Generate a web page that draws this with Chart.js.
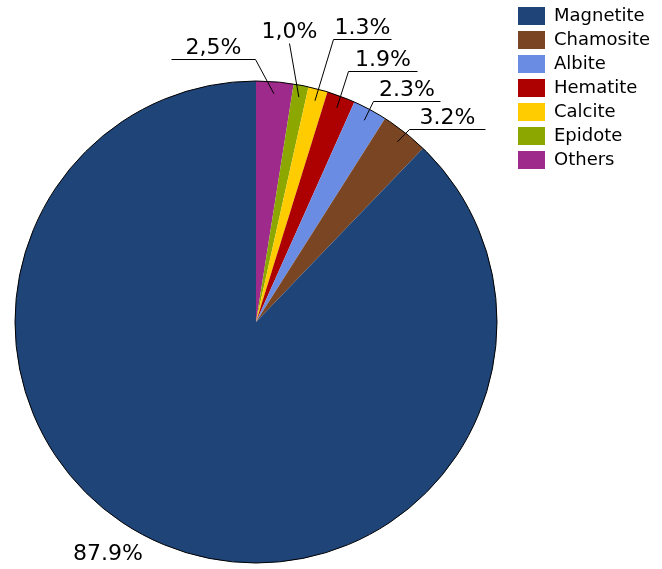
<!DOCTYPE html>
<html>
<head>
<meta charset="utf-8">
<script src="https://cdn.jsdelivr.net/npm/chart.js@4"></script>
<style>
  html, body { margin: 0; padding: 0; background: #fff; }
  canvas { display: block; }
</style>
</head>
<body>
<canvas id="pie" width="662" height="569"></canvas>
<script>
// clockwise from 12 o'clock
const minerals = ['Others', 'Epidote', 'Calcite', 'Hematite', 'Albite', 'Chamosite', 'Magnetite'];
const shares = [2.5, 1.0, 1.3, 1.9, 2.3, 3.2, 87.9];
const shareText = ['2,5%', '1,0%', '1.3%', '1.9%', '2.3%', '3.2%', '87.9%'];
const colours = ['#9E2A8B', '#8BA700', '#FFCC00', '#AD0000', '#6A8DE3', '#7A4522', '#1F4478'];

// label placement: elbow offset from the slice anchor, and underline length
const callouts = [
    {dx: -19, dy: -35, len: -84},
    {dx: -10, dy: -54, len: 0},
    {dx: 18, dy: -62, len: 58},
    {dx: 11, dy: -37, len: 69},
    {dx: 9, dy: -19, len: 67},
    {dx: 12, dy: -13, len: 76},
    {dx: -58, dy: 14, len: null}
];

const snap = v => Math.round(v) + 0.5;

const calloutPlugin = {
    id: 'callouts',
    afterDatasetsDraw(chart) {
        const ctx = chart.ctx;
        const arcs = chart.getDatasetMeta(0).data;
        ctx.save();
        // outer rim
        ctx.beginPath();
        ctx.arc(arcs[0].x, arcs[0].y, arcs[0].outerRadius, 0, Math.PI * 2);
        ctx.strokeStyle = '#000';
        ctx.lineWidth = 1;
        ctx.stroke();

        ctx.font = '22px "DejaVu Sans"';
        ctx.fillStyle = '#000';
        ctx.textAlign = 'center';
        ctx.textBaseline = 'alphabetic';
        arcs.forEach((arc, i) => {
            const c = callouts[i];
            const mid = (arc.startAngle + arc.endAngle) / 2;
            if (c.len === null) {
                const px = arc.x + Math.cos(mid) * arc.outerRadius + c.dx;
                const py = arc.y + Math.sin(mid) * arc.outerRadius + c.dy;
                ctx.fillText(shareText[i], px, py);
                return;
            }
            const ax = arc.x + Math.cos(mid) * arc.outerRadius * 0.95;
            const ay = arc.y + Math.sin(mid) * arc.outerRadius * 0.95;
            const ex = snap(ax + c.dx), ey = snap(ay + c.dy);
            ctx.beginPath();
            ctx.moveTo(ax, ay);
            ctx.lineTo(ex, ey);
            ctx.lineTo(ex + c.len, ey);
            ctx.stroke();
            ctx.fillText(shareText[i], ex + c.len / 2, ey - 6);
        });
        ctx.restore();
    }
};

new Chart(document.getElementById('pie'), {
    type: 'pie',
    data: {
        labels: minerals,
        datasets: [{
            data: shares,
            backgroundColor: colours,
            borderWidth: 0,
            radius: 241
        }]
    },
    options: {
        responsive: false,
        animation: false,
        layout: {
            padding: {top: 1, bottom: 0, left: -2, right: 10}
        },
        plugins: {
            tooltip: {enabled: false},
            // empty spacer so the pie sits lower while the legend stays at the top
            title: {
                display: true,
                text: '',
                fullSize: false,
                font: {size: 12, lineHeight: 1.2},
                padding: {top: 0, bottom: 59.6}
            },
            legend: {
                position: 'right',
                align: 'start',
                reverse: true,
                maxWidth: 140,
                labels: {
                    boxWidth: 27,
                    boxHeight: 18,
                    padding: 6,
                    color: '#000',
                    font: {family: 'DejaVu Sans', size: 18}
                }
            }
        }
    },
    plugins: [calloutPlugin]
});
</script>
</body>
</html>
